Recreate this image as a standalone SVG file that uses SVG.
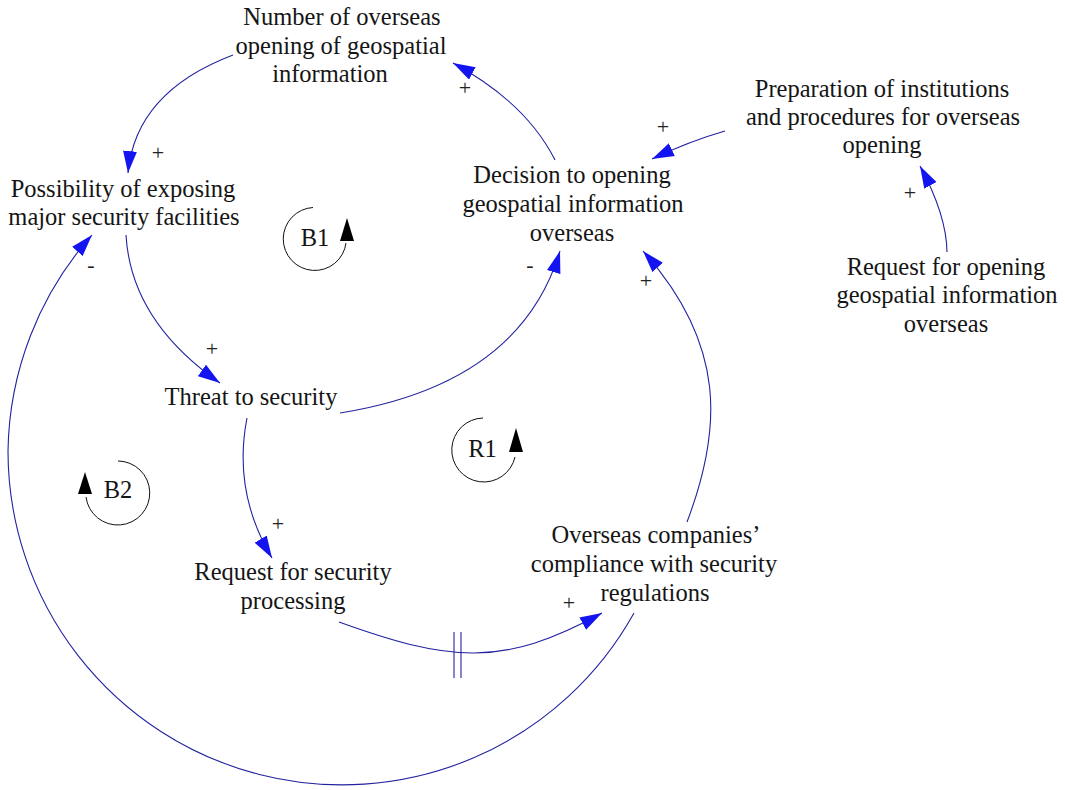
<svg xmlns="http://www.w3.org/2000/svg" width="1065" height="790" viewBox="0 0 1065 790">
<style>
.node text{font-family:"Liberation Serif","Times New Roman",serif;font-size:24.5px;fill:#151515;text-anchor:middle}
.link{fill:none;stroke:#2222a0;stroke-width:1.1}
.pol{font-family:"Liberation Serif","Times New Roman",serif;font-size:22px;fill:#222;text-anchor:middle}
.loop path{fill:none;stroke:#111;stroke-width:1}
.loop polygon{fill:#000}
.loop text{font-family:"Liberation Serif","Times New Roman",serif;font-size:24.5px;fill:#151515;text-anchor:middle}
</style>
<defs>
<marker id="ah" viewBox="0 0 22 14" refX="22" refY="7" markerWidth="22" markerHeight="14" markerUnits="userSpaceOnUse" orient="auto">
<path d="M0,0 L22,7 L0,14 z" fill="#1414f0"/>
</marker>
</defs>
<rect width="1065" height="790" fill="#fff"/>
<g id="connectors">
<path class="link" marker-end="url(#ah)" d="M233,55 Q135.5,92 128,173"/>
<path class="link" marker-end="url(#ah)" d="M555,160 Q526,102.5 453,63"/>
<path class="link" marker-end="url(#ah)" d="M725,131 Q690,141 652,159"/>
<path class="link" marker-end="url(#ah)" d="M947,252 Q946.5,215 920,166"/>
<path class="link" marker-end="url(#ah)" d="M126,235 Q131,321 220,383"/>
<path class="link" marker-end="url(#ah)" d="M340,413 Q520,384 560,251"/>
<path class="link" marker-end="url(#ah)" d="M247,418 Q232.5,492 272,558"/>
<path class="link" marker-end="url(#ah)" d="M339,622 C449,661.6 502,668 602,613"/>
<path class="link" marker-end="url(#ah)" d="M687,522 C722,430 727,345 643,251"/>
<path class="link" marker-end="url(#ah)" d="M634,613 A334,334 0 0 1 8,451 A332,332 0 0 1 92,235"/>
<line class="link" x1="454" y1="632" x2="454" y2="678"/>
<line class="link" x1="461" y1="632" x2="461" y2="678"/>
<text class="pol" x="158" y="159.5">+</text>
<text class="pol" x="465" y="94.5">+</text>
<text class="pol" x="663" y="133.5">+</text>
<text class="pol" x="910" y="199.5">+</text>
<text class="pol" x="212" y="355.5">+</text>
<text class="pol" x="530" y="272">-</text>
<text class="pol" x="278" y="530.5">+</text>
<text class="pol" x="646" y="287.5">+</text>
<text class="pol" x="569" y="609.5">+</text>
<text class="pol" x="91" y="272">-</text>
</g>
<g id="n-number" class="node"><text><tspan x="342" y="25">Number of overseas</tspan><tspan x="341" y="53.5">opening of geospatial</tspan><tspan x="330" y="82">information</tspan></text></g>
<g id="n-possibility" class="node"><text><tspan x="123" y="197">Possibility of exposing</tspan><tspan x="124" y="225">major security facilities</tspan></text></g>
<g id="n-decision" class="node"><text><tspan x="572" y="183">Decision to opening</tspan><tspan x="573" y="212">geospatial information</tspan><tspan x="572" y="241">overseas</tspan></text></g>
<g id="n-preparation" class="node"><text><tspan x="882" y="97">Preparation of institutions</tspan><tspan x="883" y="125">and procedures for overseas</tspan><tspan x="882" y="153">opening</tspan></text></g>
<g id="n-request-opening" class="node"><text><tspan x="946" y="275">Request for opening</tspan><tspan x="947" y="303">geospatial information</tspan><tspan x="946" y="332">overseas</tspan></text></g>
<g id="n-threat" class="node"><text x="251" y="405">Threat to security</text></g>
<g id="n-request-security" class="node"><text><tspan x="293" y="580">Request for security</tspan><tspan x="293" y="609">processing</tspan></text></g>
<g id="n-compliance" class="node"><text><tspan x="656" y="543">Overseas companies’</tspan><tspan x="654" y="572">compliance with security</tspan><tspan x="655" y="601">regulations</tspan></text></g>
<g id="loop-b1" class="loop"><path d="M313,207.5 A31.5,31.5 0 1 0 346,243"/><polygon points="347,218 340,241 354,241"/><text x="315" y="246">B1</text></g>
<g id="loop-r1" class="loop"><path d="M483,418 A32,32 0 1 0 515,457"/><polygon points="516,428 509,452 523,452"/><text x="482.5" y="457">R1</text></g>
<g id="loop-b2" class="loop"><path d="M118,461 A32,32 0 1 1 86,497"/><polygon points="85,472 78,494 92,494"/><text x="118" y="498">B2</text></g>
</svg>
